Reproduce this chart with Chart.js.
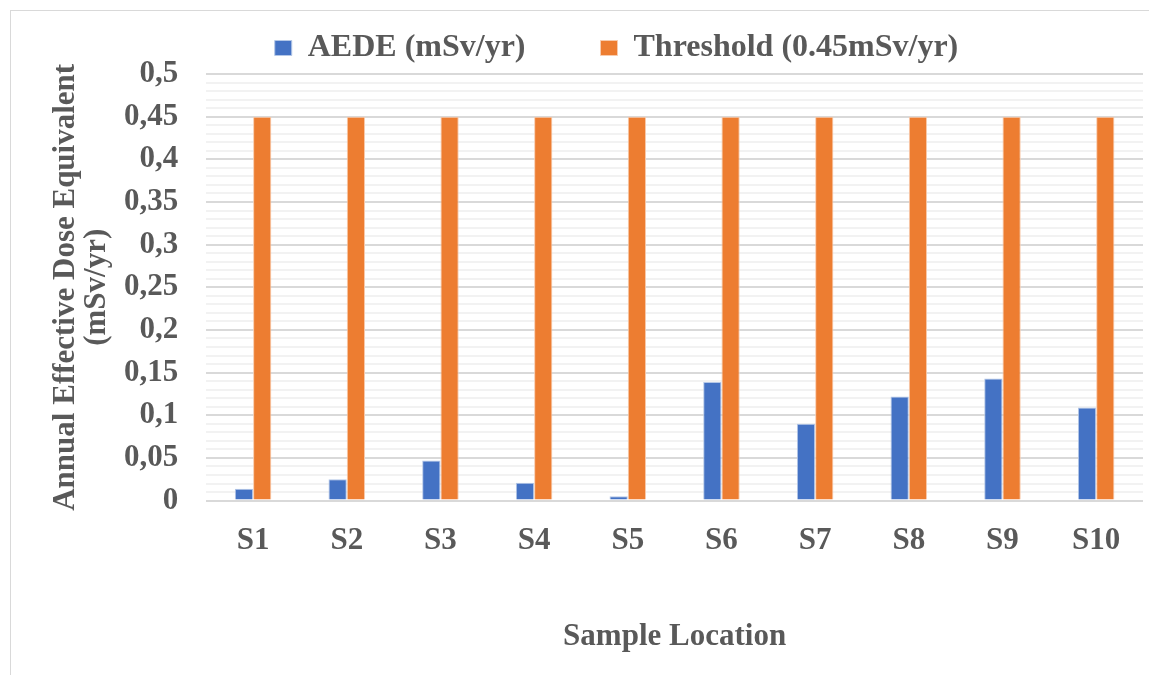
<!DOCTYPE html>
<html>
<head>
<meta charset="utf-8">
<script src="https://cdn.jsdelivr.net/npm/chart.js@4/dist/chart.umd.min.js"></script>
<style>
  html, body { margin: 0; padding: 0; background: #fff; }
  #wrap { position: absolute; left: 0; top: 0; width: 1149px; height: 675px; }
  #frame { position: absolute; left: 10px; top: 10px; width: 1160px; height: 700px; border: 1px solid #d9d9d9; }
</style>
</head>
<body>
<div id="frame"></div>
<div id="wrap"><canvas id="grafico"></canvas></div>
<script>
// Dados do gráfico
var locais = ["S1", "S2", "S3", "S4", "S5", "S6", "S7", "S8", "S9", "S10"];
var aede = [0.014, 0.025, 0.047, 0.021, 0.005, 0.139, 0.090, 0.122, 0.143, 0.109];
var limite = [0.45, 0.45, 0.45, 0.45, 0.45, 0.45, 0.45, 0.45, 0.45, 0.45];

var fonte = "'Liberation Serif', 'Times New Roman', serif";
var cinza = "#595959";

// Desloca a legenda um pouco para a direita
var moverLegenda = {
  id: "moverLegenda",
  afterLayout: function (chart) {
    chart.legend.left += 20;
    chart.legend.right += 20;
  },
};

var ctx = document.getElementById("grafico").getContext("2d");

new Chart(ctx, {
  type: "bar",
  data: {
    labels: locais,
    datasets: [
      {
        label: "AEDE (mSv/yr)",
        data: aede,
        backgroundColor: "#4472C4",
        borderColor: "#b4c7e7",
        borderWidth: 1,
        barPercentage: 1,
        categoryPercentage: 0.39,
      },
      {
        label: "Threshold (0.45mSv/yr)",
        data: limite,
        backgroundColor: "#ED7D31",
        borderColor: "#f8cbad",
        borderWidth: 1,
        barPercentage: 1,
        categoryPercentage: 0.39,
      },
    ],
  },
  plugins: [moverLegenda],
  options: {
    responsive: true,
    maintainAspectRatio: false,
    animation: false,
    layout: {
      // padding negativo no topo: a legenda usa padding grande para o espaço entre itens
      padding: { top: -43, right: 6, left: 50, bottom: 19 },
    },
    plugins: {
      legend: {
        position: "top",
        labels: {
          color: cinza,
          font: { family: fonte, size: 32, weight: "bold" },
          boxWidth: 17,
          boxHeight: 15,
          padding: 75,
        },
      },
      tooltip: { enabled: false },
    },
    scales: {
      y: {
        min: 0,
        max: 0.5,
        border: { display: false },
        ticks: {
          stepSize: 0.01,
          autoSkip: false,
          color: cinza,
          padding: 28,
          font: { family: fonte, size: 31, weight: "bold" },
          callback: function (valor) {
            var centesimos = Math.round(valor * 100);
            if (centesimos % 5 != 0) return "";
            return String(centesimos / 100).replace(".", ",");
          },
        },
        grid: {
          drawTicks: false,
          lineWidth: 2,
          color: function (c) {
            var centesimos = Math.round(c.tick.value * 100);
            return centesimos % 5 == 0 ? "#d9d9d9" : "#f2f2f2";
          },
        },
        title: {
          display: true,
          text: ["Annual Effective Dose Equivalent", "(mSv/yr)"],
          color: cinza,
          font: { family: fonte, size: 31, weight: "bold", lineHeight: 1 },
          padding: { top: 0, bottom: -16 },
        },
      },
      x: {
        border: { display: false },
        grid: { display: false },
        ticks: {
          color: cinza,
          padding: 14,
          font: { family: fonte, size: 31, weight: "bold" },
        },
        title: {
          display: true,
          text: "Sample Location",
          color: cinza,
          font: { family: fonte, size: 31, weight: "bold" },
          padding: { top: 45, bottom: 0 },
        },
      },
    },
  },
});
</script>
</body>
</html>
